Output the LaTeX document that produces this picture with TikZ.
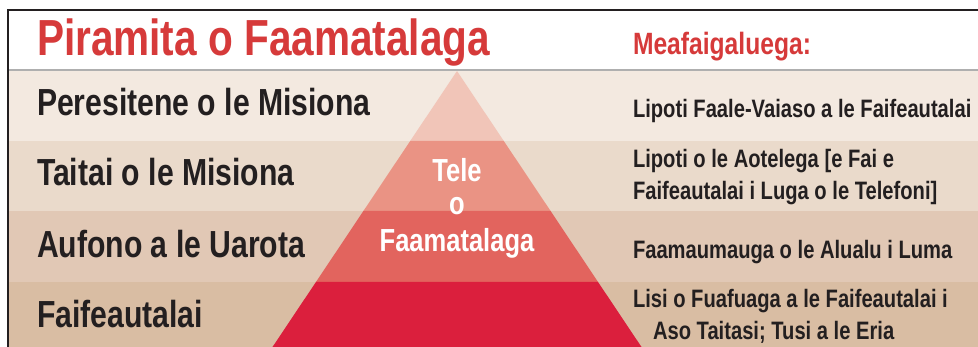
\documentclass[tikz,border=0pt]{standalone}
\usepackage{fontspec}
\newfontfamily\cf[FakeStretch=0.8]{Liberation Sans}
\definecolor{bandA}{HTML}{F3E9E0}
\definecolor{bandB}{HTML}{EADACB}
\definecolor{bandC}{HTML}{E1C8B5}
\definecolor{bandD}{HTML}{D9BDA3}
\definecolor{pyrA}{HTML}{F1C5B8}
\definecolor{pyrB}{HTML}{EA9384}
\definecolor{pyrC}{HTML}{E2645E}
\definecolor{pyrD}{HTML}{DB1F3D}
\definecolor{ink}{HTML}{231F20}
\definecolor{redtxt}{HTML}{D63A3A}
\definecolor{rule}{HTML}{AFAFAF}
\begin{document}
\begin{tikzpicture}[x=1pt,y=-1pt,
  every node/.style={inner sep=0pt,outer sep=0pt,font=\cf\bfseries},
  lbl/.style={anchor=base west,text=ink,font=\cf\bfseries\fontsize{37.7}{37.7}\selectfont},
  rtxt/.style={anchor=base west,text=ink,font=\cf\bfseries\fontsize{25.2}{25.2}\selectfont},
  ptxt/.style={anchor=base,text=white,font=\cf\bfseries\fontsize{31.9}{31.9}\selectfont}]
\useasboundingbox (0,0) rectangle (978,347);
\fill[white] (0,0) rectangle (978,347);
% bands
\fill[bandA] (8,70) rectangle (978,141);
\fill[bandB] (8,141) rectangle (978,211);
\fill[bandC] (8,211) rectangle (978,282);
\fill[bandD] (8,282) rectangle (978,347);
% pyramid tiers (apex 457,71; half-width = 0.6685*(y-71))
\fill[pyrA] (457,71) -- ({457+0.6685*70},141) -- ({457-0.6685*70},141) -- cycle;
\fill[pyrB] ({457-0.6685*70},141) -- ({457+0.6685*70},141) -- ({457+0.6685*140},211) -- ({457-0.6685*140},211) -- cycle;
\fill[pyrC] ({457-0.6685*140},211) -- ({457+0.6685*140},211) -- ({457+0.6685*211},282) -- ({457-0.6685*211},282) -- cycle;
\fill[pyrD] ({457-0.6685*211},282) -- ({457+0.6685*211},282) -- ({457+0.6685*276},347) -- ({457-0.6685*276},347) -- cycle;
% rules
\draw[rule,line width=2pt] (8,70) -- (978,70);
\draw[ink,line width=1.3pt] (8,347) -- (8,10) -- (978,10);
% title
\node[anchor=base west,text=redtxt,font=\cf\bfseries\fontsize{50.7}{50.7}\selectfont] (title) at (37,56) {Piramita o Faamatalaga};
\node[anchor=base west,text=redtxt,font=\cf\bfseries\fontsize{30.8}{30.8}\selectfont] (tools) at (633,55) {Meafaigaluega:};
% left labels
\node[lbl] (l1) at (37,116) {Peresitene o le Misiona};
\node[lbl] (l2) at (37,186) {Taitai o le Misiona};
\node[lbl] (l3) at (37,258) {Aufono a le Uarota};
\node[lbl] (l4) at (37,328) {Faifeautalai};
% pyramid text
\node[ptxt] (p1) at (457,182) {Tele};
\node[ptxt] (p2) at (457,215) {o};
\node[ptxt] (p3) at (457,252) {Faamatalaga};
% right texts
\node[rtxt] (r1) at (633,118) {Lipoti Faale-Vaiaso a le Faifeautalai};
\node[rtxt] (r2a) at (633,168) {Lipoti o le Aotelega [e Fai e};
\node[rtxt] (r2b) at (633,200) {Faifeautalai i Luga o le Telefoni]};
\node[rtxt] (r3) at (633,259) {Faamaumauga o le Alualu i Luma};
\node[rtxt] (r4a) at (633,308) {Lisi o Fuafuaga a le Faifeautalai i};
\node[rtxt] (r4b) at (653,340) {Aso Taitasi; Tusi a le Eria};
\end{tikzpicture}
\end{document}
